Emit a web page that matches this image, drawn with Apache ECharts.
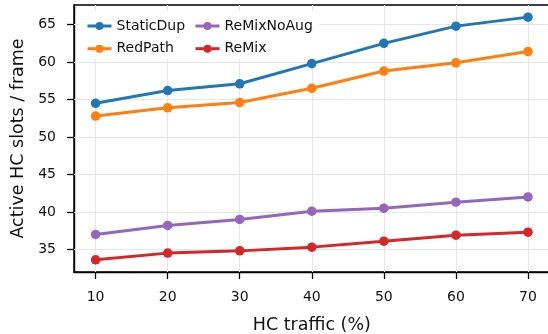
<!DOCTYPE html>
<html>
<head>
<meta charset="utf-8">
<script src="https://cdn.jsdelivr.net/npm/echarts@6/dist/echarts.min.js"></script>
<style>
html,body{margin:0;padding:0;background:#fff;}
#chart{width:548px;height:334px;}
</style>
</head>
<body>
<div id="chart"></div>
<script>
const xValues = [10, 20, 30, 40, 50, 60, 70];
const staticDup = [54.5, 56.2, 57.1, 59.8, 62.5, 64.8, 66.0];
const redPath = [52.8, 53.9, 54.6, 56.5, 58.8, 59.9, 61.4];
const reMixNoAug = [37.0, 38.2, 39.0, 40.1, 40.5, 41.3, 42.0];
const reMix = [33.6, 34.5, 34.8, 35.3, 36.1, 36.9, 37.3];
const xTicks = [10, 20, 30, 40, 50, 60, 70];
const yTicks = [35, 40, 45, 50, 55, 60, 65];
const seriesNames = ['StaticDup', 'RedPath', 'ReMixNoAug', 'ReMix'];
const seriesColors = ['#1f77b4', '#ff7f0e', '#9467bd', '#d62728'];
const seriesValues = [staticDup, redPath, reMixNoAug, reMix];

const FONT = 'DejaVu Sans';
const chart = echarts.init(document.getElementById('chart'), null, {renderer: 'canvas'});

const lineSeries = seriesNames.map((name, k) => ({
  name: name,
  type: 'line',
  data: xValues.map((x, i) => [x, seriesValues[k][i]]),
  symbol: 'circle',
  symbolSize: 9.5,
  showSymbol: true,
  z: 3,
  lineStyle: {color: seriesColors[k], width: 3},
  itemStyle: {color: seriesColors[k], borderWidth: 0},
  emphasis: {disabled: true},
  animation: false
}));

const gridSeries = {
  type: 'line',
  data: [],
  silent: true,
  z: 1,
  markLine: {
    silent: true,
    z: 1,
    symbol: ['none', 'none'],
    animation: false,
    label: {show: false},
    lineStyle: {color: '#e6e6e6', width: 1.1, type: 'solid'},
    emphasis: {disabled: true},
    data: yTicks.map(v => ({yAxis: v})).concat(xTicks.map(v => ({xAxis: v})))
  }
};

const legendCommon = {
  orient: 'vertical',
  itemWidth: 24,
  itemHeight: 10,
  itemGap: 8.7,
  backgroundColor: '#fff',
  lineStyle: {width: 3},
  textStyle: {fontFamily: FONT, fontSize: 14, color: '#111', lineHeight: 14},
  selectedMode: false,
  z: 6
};

chart.setOption({
  backgroundColor: '#fff',
  animation: false,
  grid: {
    left: 74, top: 5, width: 475.6, height: 267,
    outerBoundsMode: 'none',
    containLabel: false,
    show: true, borderColor: '#000', borderWidth: 1.4, backgroundColor: 'transparent'
  },
  legend: [
    Object.assign({}, legendCommon, {left: 79, top: 11, padding: [8, 12, 3, 7], data: ['StaticDup', 'RedPath']}),
    Object.assign({}, legendCommon, {left: 186, top: 11, padding: [8, 6, 3, 8], data: ['ReMixNoAug', 'ReMix']})
  ],
  xAxis: {
    type: 'value',
    min: 7, max: 73,
    name: 'HC traffic (%)',
    nameLocation: 'middle',
    nameGap: 44,
    nameTextStyle: {fontFamily: FONT, fontSize: 17.5, color: '#111'},
    axisLine: {show: true, onZero: false, lineStyle: {color: '#000', width: 1.4}},
    axisTick: {show: true, length: 7, lineStyle: {color: '#000', width: 1.3}, customValues: xTicks},
    axisLabel: {show: true, margin: 18, fontFamily: FONT, fontSize: 14, color: '#111', customValues: xTicks},
    splitLine: {show: false}
  },
  yAxis: {
    type: 'value',
    min: 31.98, max: 67.62,
    name: 'Active HC slots / frame',
    nameLocation: 'middle',
    nameGap: 46.5,
    nameTextStyle: {fontFamily: FONT, fontSize: 17.5, color: '#111'},
    axisLine: {show: true, onZero: false, lineStyle: {color: '#000', width: 1.4}},
    axisTick: {show: true, length: 7, lineStyle: {color: '#000', width: 1.3}, customValues: yTicks},
    axisLabel: {show: true, margin: 18, fontFamily: FONT, fontSize: 14, color: '#111', customValues: yTicks},
    splitLine: {show: false}
  },
  series: [gridSeries].concat(lineSeries)
});
</script>
</body>
</html>
